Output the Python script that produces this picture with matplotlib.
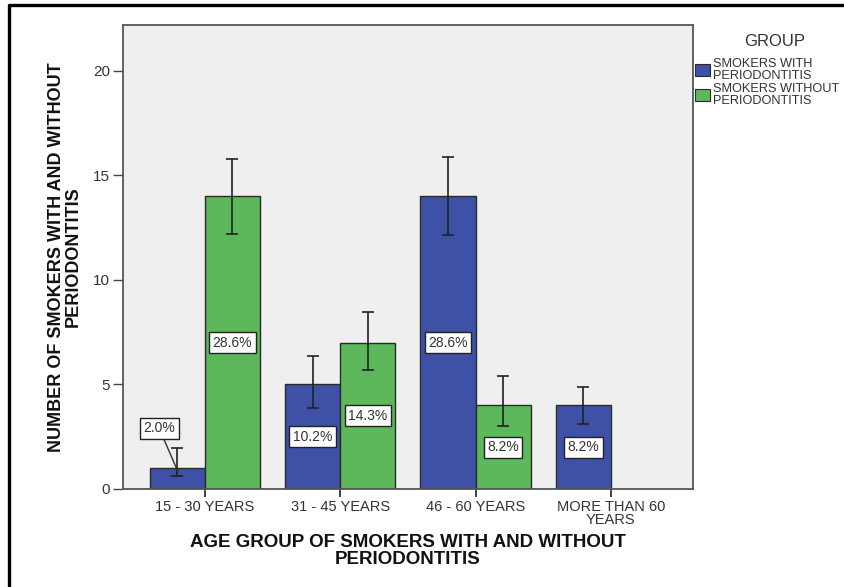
import numpy as np
import matplotlib
matplotlib.use('Agg')
import matplotlib.pyplot as plt
from matplotlib.patches import Rectangle
from matplotlib.lines import Line2D

# Dados: contagem de fumantes por faixa etaria
faixas = ['15 - 30 YEARS', '31 - 45 YEARS', '46 - 60 YEARS', 'MORE THAN 60\nYEARS']
com_perio = [1, 5, 14, 4]
sem_perio = [14, 7, 4, 0]

# Intervalos (limite inferior / superior) das barras de erro
com_lo = [0.62, 3.89, 12.15, 3.1]
com_hi = [1.95, 6.36, 15.9, 4.88]
sem_lo = [12.2, 5.68, 2.99, np.nan]
sem_hi = [15.79, 8.45, 5.4, np.nan]

grupos = ['SMOKERS WITH\nPERIODONTITIS', 'SMOKERS WITHOUT\nPERIODONTITIS']
cores = ['#3f51a6', '#5cb85a']

total = sum(com_perio) + sum(sem_perio)

plt.rcParams['font.family'] = ['Liberation Sans', 'DejaVu Sans']

fig = plt.figure(figsize=(8.45, 5.87), dpi=100)
ax = fig.add_axes([0.1452, 0.1670, 0.6749, 0.7904])
ax.set_facecolor('#efefef')

x = np.arange(len(faixas))
largura = 0.407

for serie, lo, hi, cor, sinal in [(com_perio, com_lo, com_hi, cores[0], -1),
                                   (sem_perio, sem_lo, sem_hi, cores[1], 1)]:
    pos = x + sinal * largura / 2
    valores = np.array(serie, dtype=float)
    mostrar = valores > 0
    ax.bar(pos[mostrar], valores[mostrar], width=largura, color=cor,
           edgecolor='#2a2a2a', linewidth=1.0, zorder=2)
    lo = np.array(lo)
    hi = np.array(hi)
    ax.errorbar(pos[mostrar], valores[mostrar],
                yerr=[valores[mostrar] - lo[mostrar], hi[mostrar] - valores[mostrar]],
                fmt='none', ecolor='#222222', elinewidth=1.2, capsize=4.5,
                capthick=1.2, zorder=3)
    # rotulos de porcentagem
    for p, v in zip(pos[mostrar], valores[mostrar]):
        texto = f'{v / total * 100:.1f}%'
        caixa = dict(boxstyle='square,pad=0.25', facecolor='white',
                     edgecolor='#222222', linewidth=1.0)
        if v / 2 < 1:
            ax.annotate(texto, xy=(p, v * 0.9), xytext=(-13, 30),
                        textcoords='offset points', ha='center', va='center',
                        fontsize=10, color='#333333', bbox=caixa, zorder=4,
                        arrowprops=dict(arrowstyle='-', color='#333333',
                                        linewidth=1.0, shrinkA=0, shrinkB=0))
        else:
            ax.text(p, v / 2, texto, ha='center', va='center', fontsize=10,
                    color='#333333', bbox=caixa, zorder=4)

ax.set_xlim(-0.607, 3.607)
ax.set_ylim(0, 22.2)
ax.set_yticks([0, 5, 10, 15, 20])
ax.set_xticks(x)
ax.set_xticklabels(faixas, fontsize=10.5, color='#333333', linespacing=0.9)
ax.tick_params(axis='y', labelsize=11, labelcolor='#333333', length=7,
               width=1.0, color='#444444', pad=2)
ax.tick_params(axis='x', length=6, width=1.2, color='#222222', pad=2)
for lado in ax.spines.values():
    lado.set_color('#555555')
    lado.set_linewidth(1.3)

ax.set_xlabel('AGE GROUP OF SMOKERS WITH AND WITHOUT\nPERIODONTITIS',
              fontsize=13.5, fontweight='bold', color='#111111',
              linespacing=0.95, va='top')
ax.xaxis.set_label_coords(0.5, -0.098)
ax.set_ylabel('NUMBER OF SMOKERS WITH AND WITHOUT\nPERIODONTITIS',
              fontsize=13, fontweight='bold', color='#111111',
              linespacing=0.95)
ax.yaxis.set_label_coords(-0.072, 0.5)

# Legenda desenhada a mao no lado direito
W, H = 845, 587
fig.text(775 / W, 1 - 42 / H, 'GROUP', ha='center', va='center',
         fontsize=12, color='#333333')
for i, (nome, cor) in enumerate(zip(grupos, cores)):
    yc = 70 + i * 25
    fig.add_artist(Rectangle((695 / W, 1 - (yc + 6) / H), 15 / W, 12 / H,
                             transform=fig.transFigure, facecolor=cor,
                             edgecolor='#2a2a2a', linewidth=0.8))
    fig.text(713 / W, 1 - yc / H, nome, ha='left', va='center',
             fontsize=9.2, color='#333333', linespacing=0.92)

# Moldura externa
fig.add_artist(Line2D([9 / W, 9 / W, 1.0], [0.0, 1 - 5 / H, 1 - 5 / H],
                      transform=fig.transFigure, color='black', linewidth=2.4))

fig.savefig('out.png', dpi=100)
